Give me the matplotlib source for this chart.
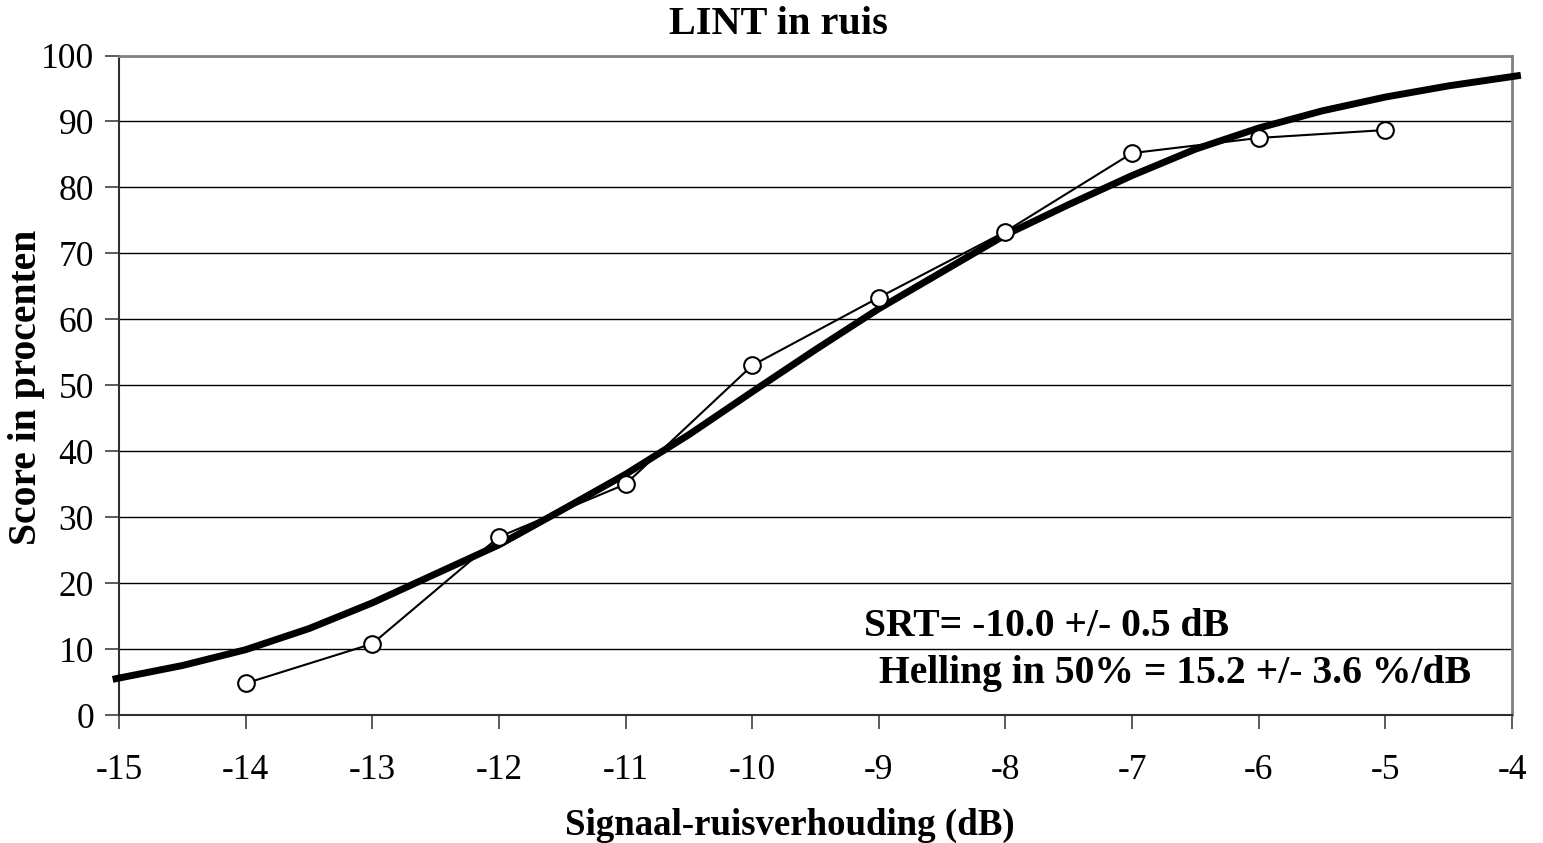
import numpy as np
import matplotlib
matplotlib.use("Agg")
import matplotlib.pyplot as plt

plt.rcParams['font.family'] = ['Liberation Serif', 'DejaVu Serif']

# measured scores
snr = [-14, -13, -12, -11, -10, -9, -8, -7, -6, -5]
score = [4.8, 10.8, 27.0, 35.0, 53.0, 63.3, 73.3, 85.2, 87.5, 88.7]

# fitted curve
fit_x = [-15.05, -15, -14.5, -14, -13.5, -13, -12.5, -12, -11.5, -11, -10.5, -10,
         -9.5, -9, -8.5, -8, -7.5, -7, -6.5, -6, -5.5, -5, -4.5, -4, -3.93]
fit_y = [5.4, 5.6, 7.5, 9.9, 13.1, 17.0, 21.4, 25.8, 31.1, 36.5, 42.5, 49.0,
         55.4, 61.6, 67.2, 72.8, 77.4, 81.8, 85.8, 89.0, 91.6, 93.7, 95.4, 96.8, 97.0]

xticks = [-15, -14, -13, -12, -11, -10, -9, -8, -7, -6, -5, -4]
yticks = [0, 10, 20, 30, 40, 50, 60, 70, 80, 90, 100]

W, H = 1543, 843
fig = plt.figure(figsize=(W / 100, H / 100), dpi=100)
ax = fig.add_axes([119/W, 1 - 715/H, (1512-119)/W, (715-55.5)/H])

ax.set_xlim(-15, -4)
ax.set_ylim(0, 100)

for yv in yticks[1:-1]:
    ax.axhline(yv, color='black', lw=1.0, zorder=1)

ax.plot(fit_x, fit_y, color='black', lw=5, solid_capstyle='butt',
        solid_joinstyle='round', clip_on=False, zorder=3)
ax.plot(snr, score, color='black', lw=1.5, marker='o', ms=12, mfc='white',
        mec='black', mew=1.5, zorder=4)

ax.set_xticks(xticks)
ax.set_xticklabels([str(v) for v in xticks])
ax.set_yticks(yticks)
ax.tick_params(axis='both', direction='out', length=10, width=1.2, labelsize=25.5, color='#404040')
ax.tick_params(axis='x', pad=18)
ax.tick_params(axis='y', pad=8)

for s in ['top', 'right']:
    ax.spines[s].set_color('#808080')
    ax.spines[s].set_linewidth(2)
for s in ['left', 'bottom']:
    ax.spines[s].set_color('#303030')
    ax.spines[s].set_linewidth(1.5)

fig.text(778/W, 1 - 25/H, 'LINT in ruis', fontsize=29, fontweight='bold', ha='center', va='center')
fig.text(790/W, 1 - 825/H, 'Signaal-ruisverhouding (dB)', fontsize=26.6, fontweight='bold',
         ha='center', va='center')
fig.text(27/W, 1 - 387/H, 'Score in procenten', fontsize=28.5, fontweight='bold',
         ha='center', va='center', rotation=90)

ax.text(-9.117, 12.0, 'SRT= -10.0 +/- 0.5 dB', fontsize=28.5, fontweight='bold', va='baseline')
ax.text(-8.999, 4.85, 'Helling in 50% = 15.2 +/- 3.6 %/dB', fontsize=28.5, fontweight='bold', va='baseline')

fig.savefig('out.png', dpi=100)
